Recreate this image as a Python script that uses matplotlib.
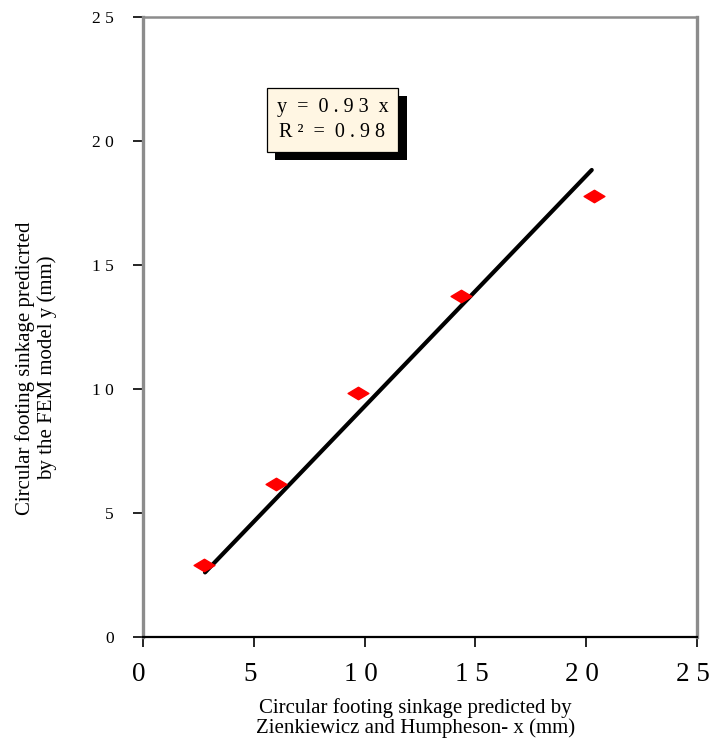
import matplotlib
matplotlib.use("Agg")
import matplotlib.pyplot as plt
import matplotlib.patheffects as pe
import matplotlib.transforms as mtransforms
from matplotlib.path import Path
import numpy as np

x_vals = [2.75, 6.0, 9.7, 14.35, 20.35]
y_vals = [2.9, 6.15, 9.85, 13.75, 17.8]
slope = 0.93
r2 = 0.98
x_ticks = [0, 5, 10, 15, 20, 25]
y_ticks = [0, 5, 10, 15, 20, 25]
x_tick_labels = ["0", "5", "1 0", "1 5", "2 0", "2 5"]
y_tick_labels = ["0", "5", "1 0", "1 5", "2 0", "2 5"]

plt.rcParams['font.family'] = ['Liberation Serif', 'DejaVu Serif']

fig = plt.figure(figsize=(7.1, 7.4), dpi=100)
ax = fig.add_axes([0.2014, 0.1392, 0.7803, 0.8378])

diamond = Path([(-1, 0), (0, 0.6), (1, 0), (0, -0.6), (-1, 0)],
               [Path.MOVETO, Path.LINETO, Path.LINETO, Path.LINETO, Path.CLOSEPOLY])

xs = np.array(x_vals)
xf = np.array([xs.min() + 0.05, xs.max() - 0.1])
ax.plot(xf, slope * xf, color='black', lw=3.0, solid_capstyle='round', zorder=2)
ax.plot(x_vals, y_vals, linestyle='none', marker=diamond, markersize=15,
        color='#FF0000', markeredgecolor='#FF0000', zorder=3)

ax.set_xlim(0, 25)
ax.set_ylim(0, 25)
ax.set_xticks(x_ticks)
ax.set_xticklabels(x_tick_labels, fontsize=19.5)
ax.set_yticks(y_ticks)
ax.set_yticklabels(y_tick_labels, fontsize=12.5)
ax.tick_params(axis='both', direction='out', length=7, width=1.2, color='black')
ax.tick_params(axis='x', pad=11)
ax.tick_params(axis='y', pad=14)
shift = mtransforms.ScaledTranslation(-4 / 100, 0, fig.dpi_scale_trans)
for lbl in ax.get_xticklabels():
    lbl.set_transform(lbl.get_transform() + shift)

for side in ['left', 'top', 'right']:
    ax.spines[side].set_color('#8c8c8c')
ax.spines['left'].set_linewidth(2.4)
ax.spines['right'].set_linewidth(2.4)
ax.spines['top'].set_linewidth(1.8)
ax.spines['bottom'].set_color('black')
ax.spines['bottom'].set_linewidth(1.6)

ax.set_xlabel("Circular footing sinkage predicted by\nZienkiewicz and Humpheson- x (mm)",
              fontsize=15, linespacing=1.0, va='center')
ax.xaxis.set_label_coords(0.492, -0.131)
ax.set_ylabel("Circular footing sinkage predicrted\nby the FEM model y (mm)",
              fontsize=15, linespacing=1.1, va='center')
ax.yaxis.set_label_coords(-0.193, 0.434)

t = ax.text(8.55, 20.85, "y  =  0 . 9 3  x\nR \u00b2  =  0 . 9 8",
            fontsize=14.5, ha='center', va='center', linespacing=1.45,
            bbox=dict(boxstyle='square,pad=0.5', facecolor='#FFF6E3',
                      edgecolor='black', linewidth=0.9), zorder=5)
t.get_bbox_patch().set_path_effects([
    pe.SimplePatchShadow(offset=(6, -6), shadow_rgbFace='black', alpha=1.0),
    pe.Normal()])

fig.savefig("out.png", dpi=100)
